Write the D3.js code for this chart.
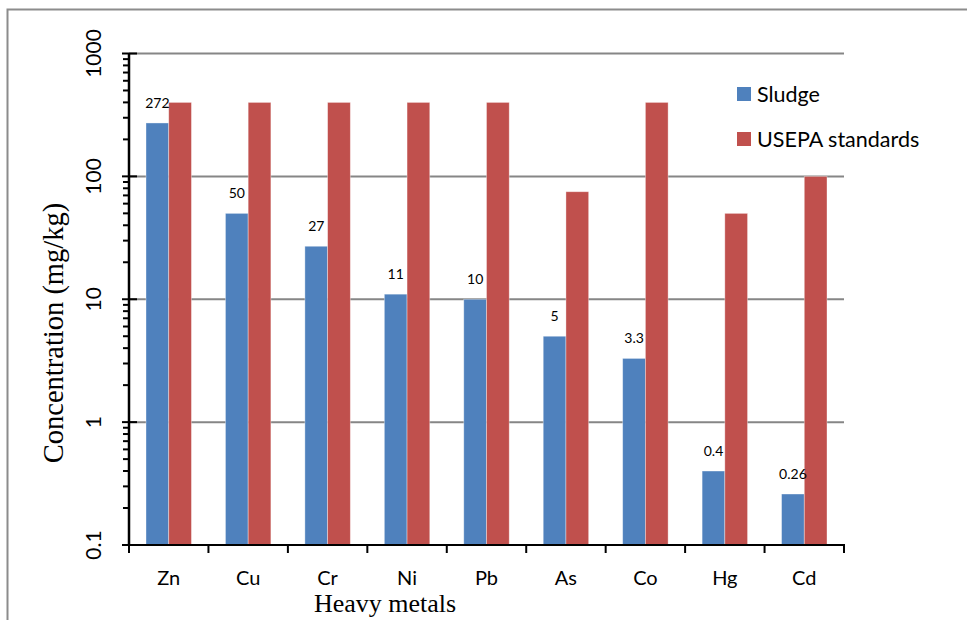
<!DOCTYPE html>
<html>
<head>
<meta charset="utf-8">
<script src="https://cdn.jsdelivr.net/npm/d3@7"></script>
<style>
  html, body { margin: 0; padding: 0; background: #fff; }
  svg { display: block; }
</style>
</head>
<body>
<svg id="chart" width="967" height="620"></svg>
<script>
// Heavy metal concentrations in sludge vs. USEPA limits (mg/kg)
const metals = ["Zn", "Cu", "Cr", "Ni", "Pb", "As", "Co", "Hg", "Cd"];
const sludge = [272, 50, 27, 11, 10, 5, 3.3, 0.4, 0.26];
const usepa = [400, 400, 400, 400, 400, 75, 400, 50, 100];
const sludgeLabels = ["272", "50", "27", "11", "10", "5", "3.3", "0.4", "0.26"];
const seriesNames = ["Sludge", "USEPA standards"];
const seriesColors = ["#4F81BD", "#C0504D"];
const yTicks = [0.1, 1, 10, 100, 1000];
const yTickLabels = ["0.1", "1", "10", "100", "1000"];

const svg = d3.select("#chart");
const plot = { left: 129, right: 844, top: 53.5, bottom: 545 };

// outer frame
svg.append("rect")
  .attr("x", 7.5).attr("y", 9.5)
  .attr("width", 980).attr("height", 640)
  .attr("fill", "none").attr("stroke", "#8c8c8c").attr("stroke-width", 2);

const x = d3.scaleBand().domain(metals).range([plot.left, plot.right]).paddingInner(0).paddingOuter(0);
const barW = x.bandwidth() * 0.286;
const y = d3.scaleLog().domain([0.1, 1000]).range([plot.bottom, plot.top]);

// gridlines
svg.append("g").selectAll("line").data(yTicks.slice(1)).join("line")
  .attr("x1", plot.left).attr("x2", plot.right)
  .attr("y1", d => y(d)).attr("y2", d => y(d))
  .attr("stroke", "#868686").attr("stroke-width", 2);

// bars
const groups = svg.append("g").selectAll("g").data(metals).join("g")
  .attr("transform", d => `translate(${x(d) + x.bandwidth() / 2},0)`);

groups.append("rect")
  .attr("x", -barW).attr("width", barW)
  .attr("y", (d, i) => y(sludge[i]))
  .attr("height", (d, i) => plot.bottom - y(sludge[i]))
  .attr("fill", seriesColors[0])
  .attr("stroke", "rgba(255,255,255,0.45)").attr("stroke-width", 0.8);

groups.append("rect")
  .attr("x", 0).attr("width", barW)
  .attr("y", (d, i) => y(usepa[i]))
  .attr("height", (d, i) => plot.bottom - y(usepa[i]))
  .attr("fill", seriesColors[1])
  .attr("stroke", "rgba(255,255,255,0.45)").attr("stroke-width", 0.8);

// value labels on sludge bars
groups.append("text")
  .attr("x", -barW / 2)
  .attr("y", (d, i) => y(sludge[i]) - 15)
  .attr("text-anchor", "middle")
  .attr("font-family", "Lato, 'Open Sans', sans-serif")
  .attr("font-size", 14)
  .attr("fill", "#000")
  .text((d, i) => sludgeLabels[i]);

// y axis: minor ticks, major ticks and line
const minor = [];
for (let e = -1; e < 3; e++) {
  for (let m = 2; m <= 9; m++) minor.push(m * Math.pow(10, e));
}
const yAxis = svg.append("g");
yAxis.selectAll("line.minor").data(minor).join("line")
  .attr("class", "minor")
  .attr("x1", plot.left - 6).attr("x2", plot.left)
  .attr("y1", d => y(d)).attr("y2", d => y(d))
  .attr("stroke", "#000").attr("stroke-width", 2);
yAxis.selectAll("line.major").data(yTicks).join("line")
  .attr("class", "major")
  .attr("x1", plot.left - 7).attr("x2", plot.left + 8)
  .attr("y1", d => y(d)).attr("y2", d => y(d))
  .attr("stroke", "#000").attr("stroke-width", 2);
yAxis.append("line")
  .attr("x1", plot.left).attr("x2", plot.left)
  .attr("y1", plot.top).attr("y2", plot.bottom)
  .attr("stroke", "#000").attr("stroke-width", 2.5);

yAxis.selectAll("text").data(yTicks).join("text")
  .attr("transform", d => `translate(92,${y(d)}) rotate(-90)`)
  .attr("text-anchor", "middle")
  .attr("dominant-baseline", "central")
  .attr("font-family", "Lato, 'Open Sans', sans-serif")
  .attr("font-size", 21)
  .attr("fill", "#000")
  .text((d, i) => yTickLabels[i]);

// x axis
const xAxis = svg.append("g");
xAxis.append("line")
  .attr("x1", plot.left - 7).attr("x2", plot.right + 1)
  .attr("y1", plot.bottom).attr("y2", plot.bottom)
  .attr("stroke", "#000").attr("stroke-width", 2);
const bounds = metals.map(m => x(m)).concat([plot.right]);
xAxis.selectAll("line.tick").data(bounds).join("line")
  .attr("class", "tick")
  .attr("x1", d => d).attr("x2", d => d)
  .attr("y1", plot.bottom).attr("y2", plot.bottom + 8)
  .attr("stroke", "#000").attr("stroke-width", 2);
xAxis.selectAll("text").data(metals).join("text")
  .attr("x", d => x(d) + x.bandwidth() / 2)
  .attr("y", 585)
  .attr("text-anchor", "middle")
  .attr("font-family", "Lato, 'Open Sans', sans-serif")
  .attr("font-size", 20)
  .attr("fill", "#000")
  .text(d => d);

// axis titles
svg.append("text")
  .attr("transform", "translate(63,333) rotate(-90)")
  .attr("text-anchor", "middle")
  .attr("font-family", "'Liberation Serif', 'Times New Roman', serif")
  .attr("font-size", 28.5)
  .attr("fill", "#000")
  .text("Concentration (mg/kg)");

svg.append("text")
  .attr("x", 385).attr("y", 612)
  .attr("text-anchor", "middle")
  .attr("font-family", "'Liberation Serif', 'Times New Roman', serif")
  .attr("font-size", 26)
  .attr("fill", "#000")
  .text("Heavy metals");

// legend
const legend = svg.append("g").attr("transform", "translate(737,87)");
const items = legend.selectAll("g").data(seriesNames).join("g")
  .attr("transform", (d, i) => `translate(0,${i * 45})`);
items.append("rect")
  .attr("width", 14).attr("height", 14)
  .attr("fill", (d, i) => seriesColors[i]);
items.append("text")
  .attr("x", 20).attr("y", 7)
  .attr("dominant-baseline", "central")
  .attr("font-family", "Lato, 'Open Sans', sans-serif")
  .attr("font-size", 21.5)
  .attr("fill", "#000")
  .text(d => d);
</script>
</body>
</html>
